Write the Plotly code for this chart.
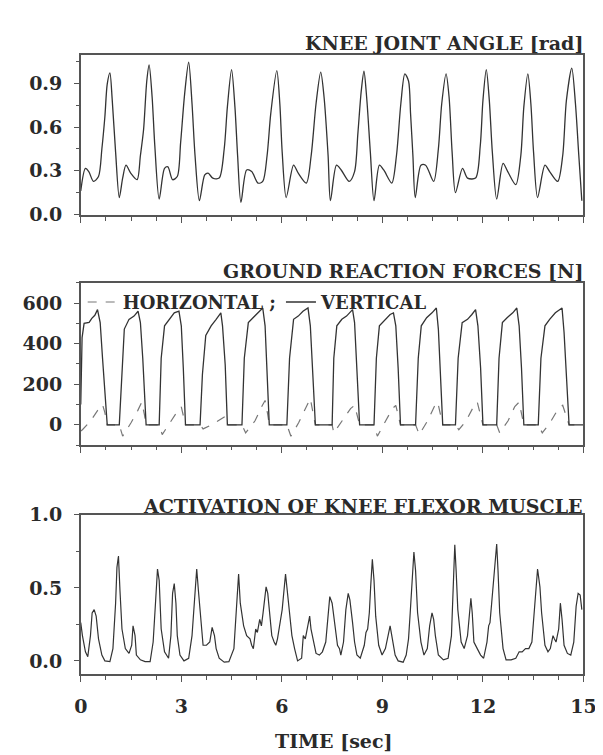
import plotly.graph_objects as go

# ---------------- data ----------------
knee_t = [0.00, 0.14, 0.24, 0.38, 0.53, 0.63, 0.72, 0.79, 0.87, 0.94, 1.04, 1.15, 1.25, 1.35, 1.49, 1.68,
          1.78, 1.875, 1.97, 2.04, 2.13, 2.21, 2.34, 2.50, 2.60, 2.74, 2.88, 2.98, 3.10, 3.22, 3.32, 3.41,
          3.54, 3.70, 3.80, 3.94, 4.13, 4.28, 4.375, 4.50, 4.60, 4.68, 4.78, 4.95, 5.10, 5.29, 5.43, 5.56,
          5.67, 5.85, 5.94, 6.01, 6.13, 6.35, 6.49, 6.73, 6.875, 7.02, 7.16, 7.26, 7.38, 7.45, 7.63, 7.77,
          8.01, 8.17, 8.27, 8.37, 8.45, 8.53, 8.64, 8.75, 8.91, 9.04, 9.28, 9.42, 9.55, 9.67, 9.78, 9.84,
          9.91, 9.98, 10.15, 10.29, 10.53, 10.67, 10.77, 10.90, 10.99, 11.08, 11.18, 11.39, 11.54, 11.78,
          11.92, 12.00, 12.10, 12.19, 12.28, 12.41, 12.60, 12.74, 12.98, 13.13, 13.22, 13.34, 13.43, 13.51,
          13.63, 13.85, 13.99, 14.23, 14.38, 14.49, 14.65, 14.76, 14.86, 14.95]
knee_angle = [0.16, 0.316, 0.294, 0.226, 0.26, 0.45, 0.672, 0.897, 0.975, 0.785, 0.428, 0.115, 0.249, 0.338, 0.283, 0.238,
              0.405, 0.584, 0.919, 1.03, 0.807, 0.472, 0.104, 0.316, 0.327, 0.238, 0.26, 0.494, 0.83, 1.048, 0.762, 0.405,
              0.093, 0.271, 0.283, 0.249, 0.249, 0.45, 0.74, 0.997, 0.74, 0.405, 0.082, 0.305, 0.294, 0.215, 0.226, 0.405,
              0.695, 0.99, 0.762, 0.428, 0.115, 0.338, 0.283, 0.215, 0.405, 0.762, 0.98, 0.807, 0.405, 0.093, 0.338, 0.305,
              0.226, 0.294, 0.561, 0.852, 0.986, 0.807, 0.428, 0.093, 0.338, 0.305, 0.215, 0.405, 0.762, 0.968, 0.919, 0.695,
              0.405, 0.115, 0.338, 0.338, 0.226, 0.45, 0.762, 0.968, 0.807, 0.428, 0.149, 0.316, 0.249, 0.249,
              0.472, 0.785, 0.997, 0.785, 0.428, 0.104, 0.35, 0.294, 0.204, 0.405, 0.74, 0.968, 0.762, 0.428,
              0.115, 0.338, 0.294, 0.226, 0.405, 0.785, 1.008, 0.762, 0.405, 0.093]

grf_v_t = [0.00, 0.04, 0.10, 0.25, 0.33, 0.42, 0.50, 0.58, 0.65, 0.72, 0.79,
           1.15, 1.23, 1.30, 1.44, 1.59, 1.71, 1.78, 1.85, 1.90, 1.95,
           2.34, 2.40, 2.50, 2.64, 2.79, 2.93, 3.00, 3.06, 3.125,
           3.56, 3.63, 3.73, 3.89, 4.04, 4.18, 4.23, 4.31, 4.375,
           4.81, 4.88, 5.00, 5.14, 5.29, 5.43, 5.50, 5.56, 5.625,
           6.15, 6.23, 6.35, 6.49, 6.63, 6.78, 6.85, 6.92, 7.00,
           7.50, 7.55, 7.64, 7.79, 7.93, 8.11, 8.17, 8.24, 8.32,
           8.75, 8.82, 8.91, 9.09, 9.23, 9.33, 9.40, 9.47, 9.54,
           9.99, 10.07, 10.16, 10.32, 10.48, 10.61, 10.67, 10.74, 10.80,
           11.18, 11.26, 11.38, 11.54, 11.67, 11.78, 11.85, 11.93, 12.00,
           12.41, 12.48, 12.58, 12.72, 12.89, 13.01, 13.08, 13.15, 13.22,
           13.65, 13.73, 13.85, 13.99, 14.16, 14.36, 14.42, 14.49, 14.57, 15.00]
grf_vertical = [100, 430, 500, 505, 525, 540, 568, 504, 328, 168, 0,
                0, 248, 472, 520, 536, 560, 504, 328, 120, 0,
                0, 328, 488, 520, 552, 560, 488, 280, 0,
                0, 248, 440, 488, 520, 552, 488, 296, 0,
                0, 328, 504, 528, 552, 576, 488, 280, 0,
                0, 328, 520, 536, 560, 576, 488, 280, 0,
                0, 328, 488, 520, 536, 568, 504, 296, 0,
                0, 328, 488, 520, 544, 552, 488, 280, 0,
                0, 328, 488, 528, 552, 576, 472, 248, 0,
                0, 328, 504, 520, 544, 568, 488, 280, 0,
                0, 328, 504, 528, 552, 576, 488, 280, 0,
                0, 328, 488, 520, 552, 576, 456, 248, 0, 0]

grf_h_t = [0.00, 0.05, 0.30, 0.50, 0.65, 0.72, 0.79,
           1.15, 1.25, 1.50, 1.70, 1.82, 1.90, 1.95,
           2.34, 2.43, 2.70, 2.90, 3.00, 3.08, 3.125,
           3.56, 3.65, 3.90, 4.20, 4.30, 4.375,
           4.81, 4.92, 5.20, 5.40, 5.50, 5.58, 5.625,
           6.15, 6.27, 6.50, 6.75, 6.85, 6.94, 7.00,
           7.50, 7.55, 7.80, 8.05, 8.17, 8.26, 8.32,
           8.75, 8.85, 9.10, 9.30, 9.40, 9.48, 9.54,
           9.99, 10.10, 10.35, 10.55, 10.65, 10.74, 10.80,
           11.18, 11.28, 11.50, 11.72, 11.83, 11.93, 12.00,
           12.41, 12.50, 12.75, 12.95, 13.08, 13.16, 13.22,
           13.65, 13.77, 14.00, 14.25, 14.38, 14.50, 14.57, 15.00]
grf_horizontal = [-30, -24, 20, 70, 100, 60, 0,
                  0, -56, 10, 70, 112, 50, 0,
                  0, -48, 20, 70, 88, 40, 0,
                  0, -20, 0, 30, 40, 0,
                  0, -40, 20, 90, 120, 50, 0,
                  0, -56, 10, 100, 130, 50, 0,
                  0, -40, 20, 80, 96, 40, 0,
                  0, -56, 20, 80, 96, 40, 0,
                  0, -48, 20, 90, 112, 40, 0,
                  0, -24, 20, 90, 112, 40, 0,
                  0, -40, 20, 90, 112, 40, 0,
                  0, -40, 10, 80, 96, 40, 0, 0]

act_t = [0.00, 0.05, 0.14, 0.21, 0.29, 0.34, 0.40, 0.46, 0.53, 0.63, 0.72, 0.87, 0.96, 1.04, 1.08, 1.125,
         1.17, 1.23, 1.33, 1.44, 1.52, 1.56, 1.62, 1.66, 1.78, 1.92, 2.07, 2.16, 2.23, 2.29, 2.34, 2.40,
         2.50, 2.62, 2.69, 2.74, 2.79, 2.84, 2.88, 2.96, 3.08, 3.22, 3.32, 3.38, 3.46, 3.51, 3.58, 3.65,
         3.75, 3.85, 3.92, 3.99, 4.04, 4.13, 4.28, 4.42, 4.57, 4.63, 4.71, 4.76, 4.86, 4.95, 5.05, 5.10,
         5.15, 5.22, 5.27, 5.34, 5.39, 5.44, 5.53, 5.58, 5.63, 5.70, 5.77, 5.82, 5.87, 5.92, 6.01, 6.11,
         6.15, 6.20, 6.30, 6.38, 6.47, 6.59, 6.64, 6.70, 6.76, 6.83, 6.87, 6.95, 7.02, 7.12, 7.21, 7.31,
         7.38, 7.43, 7.50, 7.60, 7.66, 7.72, 7.76, 7.84, 7.91, 7.98, 8.03, 8.11, 8.17, 8.24, 8.34, 8.46,
         8.51, 8.56, 8.61, 8.65, 8.70, 8.75, 8.80, 8.89, 8.99, 9.09, 9.17, 9.23, 9.28, 9.38, 9.47, 9.62,
         9.71, 9.78, 9.83, 9.88, 9.94, 9.99, 10.05, 10.15, 10.24, 10.34, 10.41, 10.48, 10.53, 10.58, 10.67, 10.82,
         10.96, 11.06, 11.11, 11.16, 11.20, 11.25, 11.35, 11.44, 11.54, 11.59, 11.64, 11.68, 11.73, 11.83, 11.93, 12.02,
         12.12, 12.17, 12.21, 12.26, 12.34, 12.41, 12.45, 12.50, 12.60, 12.69, 12.84, 12.98, 13.08, 13.17, 13.27, 13.37,
         13.46, 13.56, 13.63, 13.70, 13.75, 13.85, 13.94, 14.01, 14.09, 14.13, 14.18, 14.26, 14.31, 14.36, 14.42, 14.52,
         14.62, 14.71, 14.78, 14.84, 14.90, 14.95]
act_flexor = [0.262, 0.173, 0.062, 0.029, 0.173, 0.329, 0.351, 0.306, 0.151, 0.040, 0.0, -0.005, 0.084, 0.395, 0.64, 0.718,
              0.484, 0.218, 0.084, 0.051, 0.107, 0.240, 0.173, 0.040, 0.007, -0.005, -0.005, 0.129, 0.395, 0.629, 0.551, 0.218,
              0.062, 0.018, 0.173, 0.462, 0.529, 0.395, 0.173, 0.040, 0.0, 0.018, 0.173, 0.395, 0.629, 0.484, 0.262, 0.107,
              0.107, 0.129, 0.229, 0.173, 0.084, 0.018, -0.009, -0.005, 0.084, 0.329, 0.595, 0.395, 0.240, 0.173, 0.151, 0.107,
              0.084, 0.218, 0.195, 0.284, 0.240, 0.329, 0.507, 0.462, 0.329, 0.173, 0.129, 0.107, 0.151, 0.218, 0.351, 0.595,
              0.507, 0.351, 0.173, 0.084, 0.0, 0.018, 0.173, 0.151, 0.218, 0.306, 0.218, 0.129, 0.051, 0.040, 0.062, 0.129,
              0.329, 0.440, 0.395, 0.218, 0.107, 0.084, 0.040, 0.129, 0.351, 0.462, 0.418, 0.262, 0.129, 0.040, 0.018, 0.107,
              0.195, 0.218, 0.329, 0.507, 0.695, 0.551, 0.306, 0.107, 0.040, 0.084, 0.173, 0.240, 0.173, 0.040, 0.0, -0.009,
              0.040, 0.151, 0.329, 0.551, 0.745, 0.618, 0.329, 0.129, 0.040, 0.084, 0.240, 0.329, 0.284, 0.173, 0.040, 0.007,
              0.018, 0.173, 0.440, 0.795, 0.618, 0.351, 0.129, 0.084, 0.173, 0.329, 0.429, 0.329, 0.129, 0.084, 0.040, 0.018,
              0.129, 0.240, 0.262, 0.395, 0.618, 0.80, 0.618, 0.329, 0.084, 0.007, 0.007, 0.018, 0.062, 0.062, 0.084, 0.084,
              0.129, 0.395, 0.629, 0.507, 0.329, 0.107, 0.062, 0.084, 0.173, 0.151, 0.129, 0.218, 0.395, 0.284, 0.107, 0.051,
              0.040, 0.129, 0.373, 0.462, 0.451, 0.351]

x_ticks = [0, 3, 6, 9, 12, 15]
titles = ["KNEE JOINT ANGLE [rad]", "GROUND REACTION FORCES [N]", "ACTIVATION OF KNEE FLEXOR MUSCLE"]
x_title = "TIME [sec]"

# ---------------- figure ----------------
W, H = 603, 755
FONT = "DejaVu Serif"
INK = "#2a2a2a"
AX = "#555555"
FS = 19

def px_x(p):
    return p / W

def px_y(p):
    return 1 - p / H

fig = go.Figure()
fig.add_trace(go.Scatter(x=knee_t, y=knee_angle, mode="lines", line=dict(color="#333", width=1.3, shape="spline", smoothing=0.8),
                         xaxis="x", yaxis="y", showlegend=False))
fig.add_trace(go.Scatter(x=grf_h_t, y=grf_horizontal, mode="lines", name="HORIZONTAL ;",
                         line=dict(color="#777", width=1.2, dash="dash"), xaxis="x2", yaxis="y2"))
fig.add_trace(go.Scatter(x=grf_v_t, y=grf_vertical, mode="lines", name="VERTICAL",
                         line=dict(color="#333", width=1.3), xaxis="x2", yaxis="y2"))
fig.add_trace(go.Scatter(x=act_t, y=act_flexor, mode="lines", line=dict(color="#333", width=1.2),
                         xaxis="x3", yaxis="y3", showlegend=False))

xdom = [px_x(68), px_x(588)]
common_x = dict(range=[0, 15], domain=xdom, showline=True, mirror=True, linecolor=AX, linewidth=1.5,
                ticks="outside", ticklen=6, tickwidth=1.3, tickcolor=AX, tickvals=x_ticks,
                minor=dict(dtick=0.75, tick0=0, ticks="outside", ticklen=3.5, tickwidth=1.1, tickcolor=AX),
                showgrid=False, zeroline=False, fixedrange=True)
common_y = dict(showline=True, mirror=True, linecolor=AX, linewidth=1.5, ticks="outside", ticklen=5,
                tickwidth=1.2, tickcolor=AX, showgrid=False, zeroline=False, ticklabelstandoff=8,
                tickfont=dict(family=FONT, size=FS, color=INK, weight="bold"))

fig.update_layout(
    width=W, height=H, margin=dict(l=0, r=0, t=0, b=0), paper_bgcolor="white", plot_bgcolor="white",
    xaxis=dict(common_x, anchor="y", showticklabels=False),
    xaxis2=dict(common_x, anchor="y2", showticklabels=False),
    xaxis3=dict(common_x, anchor="y3", showticklabels=True, ticklabelstandoff=8,
                tickfont=dict(family=FONT, size=FS, color=INK, weight="bold")),
    yaxis=dict(common_y, domain=[px_y(201.7), px_y(36.7)], range=[-0.008, 1.1], tickvals=[0, 0.3, 0.6, 0.9],
               tickformat=".1f", minor=dict(dtick=0.15, tick0=0, ticks="outside", ticklen=3, tickcolor=AX), anchor="x"),
    yaxis2=dict(common_y, domain=[px_y(437.7), px_y(271)], range=[-100, 700], tickvals=[0, 200, 400, 600],
                minor=dict(dtick=100, tick0=0, ticks="outside", ticklen=3, tickcolor=AX), anchor="x2"),
    yaxis3=dict(common_y, domain=[px_y(673.3), px_y(509.3)], range=[-0.093, 1.0], tickvals=[0, 0.5, 1.0],
                tickformat=".1f", minor=dict(dtick=0.25, tick0=0, ticks="outside", ticklen=3, tickcolor=AX), anchor="x3"),
    legend=dict(orientation="h", x=px_x(70), y=px_y(272), xanchor="left", yanchor="top",
                bgcolor="rgba(0,0,0,0)", font=dict(family=FONT, size=FS - 1, color=INK, weight="bold"),
                itemwidth=30, tracegroupgap=0),
    font=dict(family=FONT, color=INK),
)

title_y = [25, 259, 500]
for txt, yy in zip(titles, title_y):
    fig.add_annotation(text=txt, xref="paper", yref="paper", x=px_x(590), y=px_y(yy), xanchor="right",
                       yanchor="middle", showarrow=False, font=dict(family=FONT, size=FS, color=INK, weight="bold"))
fig.add_annotation(text=x_title, xref="paper", yref="paper", x=px_x(330), y=px_y(742), xanchor="center",
                   yanchor="middle", showarrow=False, font=dict(family=FONT, size=FS, color=INK, weight="bold"))

fig.write_html("out.html")
